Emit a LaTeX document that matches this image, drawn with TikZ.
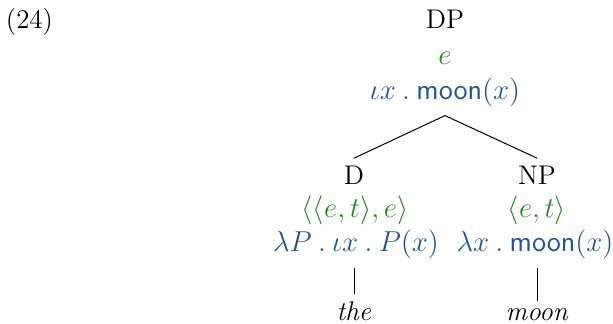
\documentclass[tikz,border=0pt]{standalone}
\usepackage{amsmath}
\definecolor{typgreen}{RGB}{34,136,34}
\definecolor{semblue}{RGB}{34,84,148}
\begin{document}
\begin{tikzpicture}[x=0.5pt,y=-0.5pt,font=\fontsize{13.5}{16}\selectfont]
	\useasboundingbox (0,0)rectangle(613,324);
	\tikzset{lab/.style={anchor=base,inner sep=4pt},
	typ/.style={lab,text=typgreen},
	sem/.style={lab,text=semblue},
	branch/.style={line width=0.5pt}}
	\node[lab](ex)at(29.5,29){(24)};
	\node[lab](dp)at(445,29){DP};
	\node[typ](dpt)at(445,65){$e$};
	\node[sem](dpm)at(445,100){$\iota x\:.\:\mathsf{moon}(x)$};
	\node[lab](d)at(354,185){D};
	\node[typ](dt)at(355,218){$\langle\langle e,t\rangle,e\rangle$};
	\node[sem](dm)at(356,252){$\lambda P\:.\:\iota x\:.\:P(x)$};
	\node[lab](the)at(354,321){\textit{the}};
	\node[lab](np)at(537,185){NP};
	\node[typ](npt)at(537,218){$\langle e,t\rangle$};
	\node[sem](npm)at(535,252){$\lambda x\:.\:\mathsf{moon}(x)$};
	\node[lab](moon)at(537,321){\textit{moon}};
	\draw[branch](dpm.south)--(d.north) (dpm.south)--(np.north);
	\draw[branch](dm.south-|the)--(the.north) (npm.south-|moon)--(moon.north);
\end{tikzpicture}
\end{document}
